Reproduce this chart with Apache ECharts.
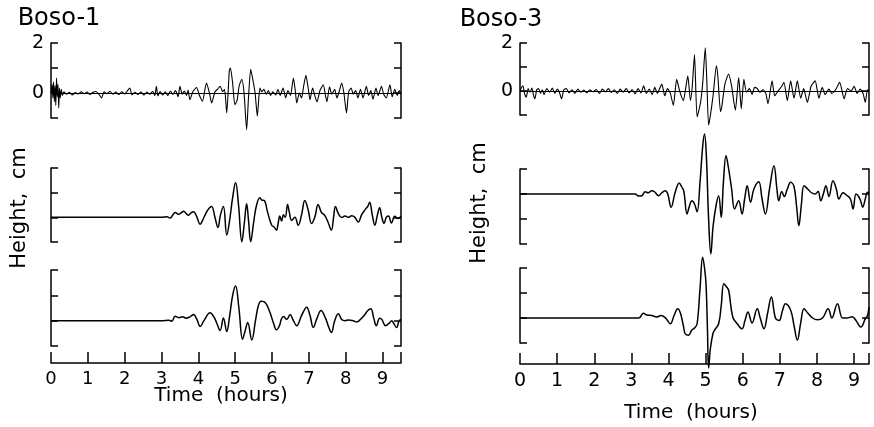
<!DOCTYPE html>
<html>
<head>
<meta charset="utf-8">
<script src="https://cdn.jsdelivr.net/npm/echarts@6/dist/echarts.min.js"></script>
<style>html,body{margin:0;padding:0;background:#fff}#c{width:874px;height:427px}</style>
</head>
<body>
<div id="c"></div>
<script>
// ---- DATA ----
const columnTitles = ['Boso-1', 'Boso-3'];
const xTickValues = [0, 1, 2, 3, 4, 5, 6, 7, 8, 9];
const xTickLabels = ['0', '1', '2', '3', '4', '5', '6', '7', '8', '9'];
const topYLabels = [0, 2];
const xMaxLeft = 9.5;
const xMaxRight = 9.4;
const yRangeLeft = [[-1, 2], [-1, 2], [-1, 2]];
const yRangeRight = [[-1, 2], [-2, 1], [-1, 2]];

// Boso-1, observed record (top), [hours, cm]
const boso1Top = [
[0,0],[0.03,0.35],[0.05,-0.2],[0.07,0.45],[0.09,-0.35],[0.11,0.3],[0.13,-0.5],[0.15,0.6],[0.17,-0.15],[0.19,0.35],[0.21,-0.6],[0.23,0.2],[0.25,-0.2],[0.28,0.15],[0.31,-0.1],[0.35,0.05],
[0.42,-0.05],[0.5,0.03],[0.58,-0.08],[0.66,0.02],[0.74,-0.04],[0.82,0.05],[0.9,-0.03],[0.98,0.04],[1.06,-0.06],[1.14,0.03],[1.22,0.06],[1.3,-0.05],[1.37,-0.2],[1.44,0.05],[1.52,-0.03],[1.6,0.07],[1.68,-0.05],[1.76,0.04],[1.84,-0.06],[1.92,0.05],[2.0,-0.04],[2.07,0.08],[2.14,0.2],[2.2,-0.07],[2.28,0.03],[2.36,-0.06],[2.44,0.05],[2.52,-0.08],[2.6,0.04],[2.68,-0.05],[2.76,0.07],[2.82,-0.1],[2.86,0.27],[2.9,-0.12],[2.96,0.06],
[3.03,-0.08],[3.1,0.05],[3.17,-0.1],[3.24,0.08],[3.31,-0.06],[3.38,0.1],[3.45,-0.15],[3.5,0.27],[3.56,-0.05],[3.62,0.08],[3.68,-0.1],[3.72,0.12],[3.77,-0.27],[3.85,0.05],[3.95,0.22],[4.03,-0.1],[4.11,-0.33],[4.22,0.4],[4.3,0.0],[4.36,-0.4],[4.45,0.05],[4.52,0.15],[4.59,0.27],[4.66,0.05],[4.71,0.15],[4.77,-0.8],[4.84,0.9],[4.87,1.0],[4.93,0.4],[4.99,-0.47],[5.05,-0.3],[5.11,0.3],[5.18,0.55],[5.24,0.0],[5.31,-1.47],[5.36,-0.2],[5.42,0.95],[5.47,0.6],[5.54,0.0],[5.6,-0.93],[5.67,0.2],[5.72,0.05],[5.78,0.15],[5.84,-0.05],[5.9,0.1],[5.96,-0.1],
[6.02,0.05],[6.1,-0.08],[6.16,0.15],[6.22,-0.1],[6.3,0.2],[6.37,-0.2],[6.43,0.1],[6.5,-0.1],[6.58,0.6],[6.63,0.1],[6.67,-0.4],[6.74,0.0],[6.8,-0.2],[6.86,0.3],[6.92,0.71],[6.98,0.2],[7.03,-0.27],[7.1,0.2],[7.16,-0.1],[7.22,-0.35],[7.3,0.1],[7.39,0.33],[7.45,-0.1],[7.49,-0.35],[7.56,0.25],[7.62,-0.05],[7.7,0.15],[7.76,-0.2],[7.83,0.1],[7.89,0.4],[7.95,0.0],[8.02,-0.8],[8.08,0.05],[8.15,0.2],[8.2,-0.05],[8.27,0.1],[8.33,-0.2],[8.4,0.15],[8.47,-0.2],[8.56,0.27],[8.62,-0.1],[8.68,0.1],[8.74,-0.25],[8.82,0.2],[8.88,-0.1],[8.97,0.27],[9.03,-0.05],[9.1,-0.2],[9.2,0.33],[9.26,-0.15],[9.33,0.15],[9.4,-0.1],[9.45,0.1],[9.5,-0.05]
];
// Boso-1, computed (middle)
const boso1Mid = [
[0,0],[3.0,0],[3.15,0.02],[3.23,-0.03],[3.3,0.08],[3.37,0.2],[3.47,0.12],[3.53,0.18],[3.6,0.25],[3.67,0.15],[3.73,0.08],[3.8,0.18],[3.87,0.23],[3.95,0.05],[4.05,-0.28],[4.12,-0.1],[4.2,0.15],[4.28,0.35],[4.36,0.44],[4.45,0.0],[4.53,-0.41],[4.6,0.1],[4.68,0.44],[4.77,-0.72],[4.85,-0.1],[4.93,0.8],[5.01,1.41],[5.09,0.5],[5.18,-0.99],[5.25,-0.2],[5.31,0.55],[5.36,-0.1],[5.42,-0.99],[5.5,-0.2],[5.58,0.5],[5.67,0.79],[5.72,0.7],[5.79,0.68],[5.88,0.2],[5.99,-0.32],[6.06,-0.4],[6.12,-0.52],[6.17,-0.2],[6.21,0.05],[6.26,-0.15],[6.31,0.1],[6.36,0.0],[6.42,0.52],[6.47,0.2],[6.53,-0.12],[6.62,0.0],[6.71,-0.32],[6.8,0.1],[6.89,0.68],[6.98,0.3],[7.07,-0.25],[7.16,0.0],[7.25,0.52],[7.34,0.2],[7.43,0.08],[7.52,-0.2],[7.61,-0.52],[7.67,0.0],[7.72,0.44],[7.8,0.15],[7.89,-0.01],[7.98,0.05],[8.07,0.0],[8.16,0.06],[8.25,0.0],[8.34,-0.19],[8.43,0.1],[8.52,0.3],[8.6,0.45],[8.65,0.61],[8.72,0.1],[8.79,-0.32],[8.86,0.1],[8.92,0.39],[8.98,0.0],[9.04,-0.25],[9.1,0.0],[9.16,0.05],[9.24,-0.23],[9.33,0.04],[9.42,-0.05],[9.5,0.05]
];
// Boso-1, computed (bottom)
const boso1Bot = [
[0,0],[3.0,0],[3.2,0.02],[3.28,-0.02],[3.37,0.17],[3.47,0.12],[3.57,0.15],[3.67,0.1],[3.77,0.15],[3.87,0.24],[3.96,0.05],[4.05,-0.23],[4.15,0.0],[4.32,0.31],[4.42,0.15],[4.5,-0.1],[4.59,-0.39],[4.68,0.11],[4.77,-0.43],[4.85,0.2],[4.93,1.0],[5.01,1.37],[5.1,0.5],[5.2,-0.73],[5.27,-0.4],[5.34,-0.07],[5.45,-0.76],[5.55,0.0],[5.62,0.55],[5.7,0.77],[5.78,0.75],[5.85,0.64],[5.95,0.3],[6.04,-0.1],[6.12,-0.36],[6.2,-0.2],[6.25,0.05],[6.31,0.16],[6.4,0.05],[6.49,0.24],[6.58,0.0],[6.67,-0.2],[6.8,0.2],[6.94,0.53],[7.03,0.2],[7.12,-0.27],[7.22,0.1],[7.33,0.4],[7.45,0.1],[7.55,-0.3],[7.61,-0.47],[7.7,0.0],[7.8,0.27],[7.89,0.05],[7.98,0.0],[8.08,0.03],[8.2,0.0],[8.3,-0.05],[8.4,0.05],[8.5,0.2],[8.6,0.4],[8.68,0.47],[8.76,0.1],[8.83,-0.2],[8.92,0.1],[8.98,0.05],[9.08,-0.2],[9.18,-0.1],[9.25,0.0],[9.3,-0.1],[9.38,-0.27],[9.45,0.0],[9.5,0.05]
];
// Boso-3, observed record (top)
const boso3Top = [
[0,0],[0.04,0.15],[0.08,0.22],[0.12,-0.1],[0.17,-0.26],[0.22,0.1],[0.27,-0.05],[0.32,0.12],[0.36,-0.15],[0.4,-0.33],[0.45,0.05],[0.5,0.1],[0.55,-0.1],[0.6,0.05],[0.65,-0.15],[0.72,0.1],[0.8,-0.05],[0.87,0.12],[0.94,-0.1],[1.0,0.08],[1.06,-0.05],[1.12,-0.33],[1.18,0.05],[1.25,0.1],[1.32,-0.08],[1.4,0.05],[1.48,-0.1],[1.56,0.08],[1.64,-0.05],[1.72,0.04],[1.8,-0.08],[1.88,0.05],[1.96,-0.03],[2.05,0.06],[2.14,-0.1],[2.22,0.08],[2.3,-0.04],[2.38,0.1],[2.46,-0.06],[2.54,0.05],[2.62,-0.1],[2.7,0.08],[2.78,-0.05],[2.86,0.1],[2.94,-0.08],
[3.02,0.06],[3.1,-0.12],[3.18,0.1],[3.26,-0.08],[3.33,0.22],[3.4,-0.1],[3.48,0.08],[3.56,-0.15],[3.63,0.15],[3.7,-0.1],[3.76,0.1],[3.82,0.29],[3.9,-0.2],[3.97,0.1],[4.05,-0.1],[4.13,-0.6],[4.22,0.49],[4.3,0.0],[4.4,-0.4],[4.46,0.1],[4.52,0.63],[4.59,-0.4],[4.64,0.2],[4.7,1.52],[4.77,-1.08],[4.86,-0.5],[4.92,0.3],[4.99,1.8],[5.03,0.5],[5.08,-1.43],[5.13,-1.0],[5.2,-0.2],[5.29,1.05],[5.33,0.6],[5.4,-0.86],[5.44,-0.6],[5.52,0.3],[5.62,0.71],[5.7,0.2],[5.8,-0.8],[5.89,0.56],[5.96,-0.74],
[6.03,0.49],[6.1,-0.05],[6.18,0.1],[6.25,-0.15],[6.32,0.15],[6.39,0.1],[6.46,-0.05],[6.55,0.05],[6.62,-0.1],[6.68,-0.53],[6.79,0.42],[6.86,-0.2],[6.95,0.0],[7.05,0.2],[7.11,0.36],[7.2,-0.4],[7.29,0.42],[7.38,-0.3],[7.47,0.42],[7.56,-0.3],[7.64,0.1],[7.74,-0.47],[7.84,0.2],[7.95,0.42],[8.05,-0.3],[8.14,0.15],[8.22,-0.15],[8.32,0.08],[8.4,-0.1],[8.5,0.05],[8.61,0.36],[8.73,-0.33],[8.82,0.1],[8.92,0.0],[9.0,0.2],[9.08,-0.1],[9.16,0.08],[9.24,-0.1],[9.3,-0.47],[9.36,0.05],[9.4,0.0]
];
// Boso-3, computed (middle)
const boso3Mid = [
[0,0],[2.5,0],[3.1,0.0],[3.19,-0.08],[3.28,-0.07],[3.37,0.09],[3.45,0.05],[3.55,0.13],[3.63,0.08],[3.73,-0.07],[3.82,0.05],[3.91,0.13],[3.98,0.0],[4.07,-0.53],[4.18,0.07],[4.29,0.44],[4.35,0.3],[4.41,0.13],[4.5,-0.8],[4.56,-0.5],[4.63,-0.27],[4.7,-0.4],[4.77,-0.71],[4.85,0.5],[4.92,1.9],[4.97,2.4],[5.02,1.5],[5.08,-1.0],[5.14,-2.4],[5.2,-1.3],[5.28,-0.47],[5.35,-0.07],[5.42,-0.93],[5.48,0.5],[5.55,1.53],[5.62,1.0],[5.7,0.2],[5.78,-0.6],[5.89,-0.27],[5.98,-0.8],[6.05,-0.2],[6.12,0.33],[6.21,-0.33],[6.3,0.2],[6.43,0.49],[6.52,-0.2],[6.61,-0.8],[6.72,0.2],[6.84,1.13],[6.92,0.2],[6.97,-0.27],[7.05,0.1],[7.12,-0.1],[7.2,0.2],[7.29,0.47],[7.38,0.3],[7.45,-0.5],[7.51,-1.27],[7.58,-0.4],[7.65,0.33],[7.75,0.2],[7.85,0.05],[7.95,0.0],[8.03,0.1],[8.1,-0.27],[8.17,0.0],[8.24,0.33],[8.32,-0.1],[8.43,0.53],[8.52,0.2],[8.59,-0.2],[8.7,0.05],[8.8,-0.05],[8.9,-0.2],[8.97,-0.6],[9.05,0.0],[9.12,-0.1],[9.18,-0.3],[9.23,-0.53],[9.3,-0.2],[9.36,0.07],[9.4,0.0]
];
// Boso-3, computed (bottom)
const boso3Bot = [
[0,0],[3.2,0],[3.32,0.19],[3.42,0.12],[3.55,0.1],[3.68,0.04],[3.8,0.1],[3.92,0.0],[4.05,-0.23],[4.15,0.1],[4.25,0.37],[4.32,0.2],[4.4,-0.3],[4.45,-0.63],[4.54,-0.69],[4.62,-0.5],[4.7,-0.4],[4.77,-0.23],[4.85,1.2],[4.92,2.43],[4.97,2.0],[5.01,1.37],[5.05,-0.5],[5.08,-2.0],[5.13,-1.2],[5.2,-0.6],[5.24,-0.49],[5.35,-0.23],[5.42,0.5],[5.49,1.37],[5.56,1.25],[5.62,1.11],[5.73,0.04],[5.85,-0.23],[5.98,-0.43],[6.06,-0.1],[6.14,0.24],[6.25,-0.2],[6.39,0.37],[6.47,0.0],[6.57,-0.43],[6.67,0.2],[6.77,0.84],[6.88,0.0],[6.98,-0.1],[7.07,0.3],[7.15,0.57],[7.29,0.31],[7.38,-0.3],[7.47,-0.89],[7.56,-0.2],[7.65,0.37],[7.75,0.2],[7.88,0.0],[8.01,-0.07],[8.15,0.0],[8.3,0.37],[8.4,0.0],[8.55,0.57],[8.69,0.0],[8.8,0.0],[8.95,0.05],[9.05,-0.1],[9.18,-0.36],[9.31,0.0],[9.36,0.1],[9.4,0.44]
];

// ---- LAYOUT / STYLE ----
const FONT = '"DejaVu Sans", sans-serif';
const grids = [
  {left: 51, top: 43, width: 350, height: 75},
  {left: 51, top: 168, width: 350, height: 74},
  {left: 51, top: 270, width: 350, height: 76},
  {left: 520, top: 43, width: 349, height: 72},
  {left: 520, top: 169, width: 349, height: 75},
  {left: 520, top: 268, width: 349, height: 75}
];
const seriesData = [boso1Top, boso1Mid, boso1Bot, boso3Top, boso3Mid, boso3Bot];
const ranges = yRangeLeft.concat(yRangeRight);

const xAxes = [];
const yAxes = [];
const series = [];
grids.forEach((g, i) => {
  const right = i >= 3;
  const isBottom = (i % 3) === 2;
  const isTop = (i % 3) === 0;
  const xmax = right ? xMaxRight : xMaxLeft;
  xAxes.push({
    type: 'value', gridIndex: i, min: 0, max: xmax, interval: 1,
    show: isBottom,
    position: 'bottom',
    offset: isBottom ? (right ? 21 : 17) : 0,
    axisLine: {show: true, onZero: false, lineStyle: {color: '#000', width: 1.5}},
    axisTick: {show: true, inside: true, length: 11, lineStyle: {color: '#000', width: 1.5},
               customValues: xTickValues.concat([xmax])},
    axisLabel: {show: true, color: '#000', fontFamily: FONT, fontSize: right ? 19 : 18,
                margin: right ? 8 : 7, customValues: xTickValues,
                formatter: v => { const k = xTickValues.indexOf(Math.round(v * 100) / 100); return k >= 0 ? xTickLabels[k] : ''; }},
    splitLine: {show: false}
  });
  const r = ranges[i];
  ['left', 'right'].forEach(pos => {
    yAxes.push({
      type: 'value', gridIndex: i, position: pos, min: r[0], max: r[1], interval: 1,
      axisLine: {show: true, onZero: false, lineStyle: {color: '#000', width: 1.5}},
      axisTick: {show: true, inside: true, length: 7, lineStyle: {color: '#000', width: 1.5}},
      axisLabel: {show: isTop && pos === 'left', color: '#000', fontFamily: FONT, fontSize: 19, margin: 7,
                  formatter: v => topYLabels.indexOf(v) >= 0 ? String(v) : ''},
      splitLine: {show: false}
    });
  });
  const s = {
    type: 'line', xAxisIndex: i, yAxisIndex: 2 * i, data: seriesData[i],
    showSymbol: false, symbol: 'none', clip: false, silent: true,
    smooth: isTop ? 0.2 : 0.4,
    lineStyle: {color: '#000', width: isTop ? 1.1 : 1.5},
    animation: false
  };
  if (isTop) {
    s.markLine = {silent: true, symbol: ['none', 'none'], label: {show: false},
                  lineStyle: {color: '#000', width: 1, type: 'solid'}, data: [{yAxis: 0}], animation: false};
  }
  series.push(s);
});

function txt(text, x, y, size, rot) {
  return {type: 'text', x: x, y: y, rotation: rot || 0, silent: true,
          style: {text: text, fill: '#000', font: size + 'px ' + FONT, textAlign: 'center', textVerticalAlign: 'middle'}};
}

const chart = echarts.init(document.getElementById('c'), null, {renderer: 'canvas'});
chart.setOption({
  backgroundColor: '#fff',
  animation: false,
  grid: grids,
  xAxis: xAxes,
  yAxis: yAxes,
  series: series,
  graphic: [
    txt(columnTitles[0], 59, 19, 24),
    txt(columnTitles[1], 501, 20, 24),
    txt('Height,  cm', 20, 208, 21, Math.PI / 2),
    txt('Height,  cm', 480, 203, 21, Math.PI / 2),
    txt('Time  (hours)', 221, 396, 20),
    txt('Time  (hours)', 691, 413, 20)
  ]
});
</script>
</body>
</html>
